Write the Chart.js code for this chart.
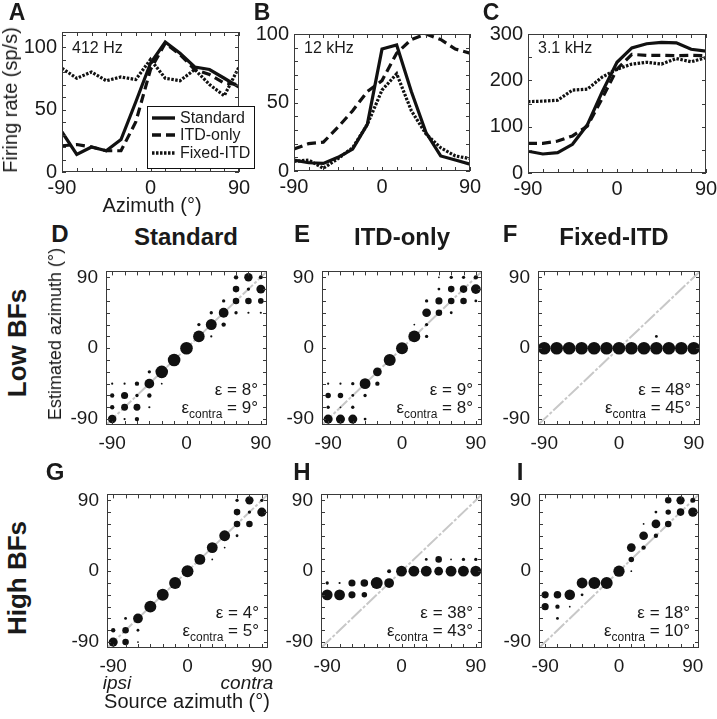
<!DOCTYPE html>
<html>
<head>
<meta charset="utf-8">
<script src="https://cdn.jsdelivr.net/npm/chart.js@4/dist/chart.umd.min.js"></script>
<style>
  html, body { margin: 0; padding: 0; background: #fff; }
  #fig { position: relative; width: 717px; height: 719px; overflow: hidden;
         font-family: "Liberation Sans", Arial, Helvetica, sans-serif; color: #1a1a1a; }
  #fig canvas { position: absolute; }
  .t { position: absolute; line-height: 1; white-space: nowrap; transform: translate(-50%, -50%); }
  .rot { transform: translate(-50%, -50%) rotate(-90deg); }
  .b { font-weight: bold; }
  .eps { position: absolute; font-size: 17px; line-height: 1; white-space: nowrap; transform: translateY(-50%); }
  .eps sub { font-size: 12px; vertical-align: -5px; line-height: 0; }
  #legend { position: absolute; left: 147px; top: 106px; width: 106px; height: 59px;
            border: 1.5px solid #111; background: #fff; padding-top: 2px; z-index: 5; }
  .lg-row { display: flex; align-items: center; height: 17.5px; font-size: 16px; }
  .lg-row svg { margin: 0 5px 0 4px; }
</style>
</head>
<body>
<div id="fig"><div id="legend"></div></div>
<script>
const FONT = '"Liberation Sans", Arial, Helvetica, sans-serif';
const INK = '#1a1a1a';

// top row: firing rate vs azimuth
const azimuths = [-90, -75, -60, -45, -30, -15, 0, 15, 30, 45, 60, 75, 90];
const seriesNames = ['Standard', 'ITD-only', 'Fixed-ITD'];
const aStandard = [32, 14, 20, 17, 26, 56, 87, 104, 95, 84, 82, 75, 68];
const aItdOnly  = [21, 22, 20, 17, 17, 40, 82, 103, 94, 82, 78, 71, 70];
const aFixedItd = [83, 75, 80, 73, 76, 74, 90, 75, 73, 82, 70, 61, 84];
const bStandard = [8, 6, 5.5, 10, 16, 34, 89, 92, 58, 28, 11, 8, 5];
const bItdOnly  = [16, 20, 21, 32, 44, 58, 66, 86, 96, 100, 96, 89, 86];
const bFixedItd = [7, 8, 2, 9, 17, 34, 59, 71, 44, 27, 17, 11, 9];
const cStandard = [47, 41, 44, 62, 104, 175, 239, 270, 279, 282, 281, 267, 263];
const cItdOnly  = [64, 64, 69, 80, 101, 161, 224, 256, 254, 254, 253, 254, 253];
const cFixedItd = [154, 155, 157, 179, 181, 207, 224, 235, 239, 235, 247, 240, 249];

// tick labels
const azLabels = [-90, 0, 90];
const rateLabels100 = [0, 50, 100];
const rateLabels300 = [0, 100, 200, 300];
const minor10 = [0, 10, 20, 30, 40, 50, 60, 70, 80, 90, 100, 110];
const minor50 = [0, 50, 100, 150, 200, 250, 300];

// bottom rows: [source azimuth, estimated azimuth, proportion of trials]
const lowStandard = [
  [-90,-90,0.45],[-90,-75,0.12],[-90,-60,0.12],[-90,-45,0.03],
  [-75,-90,0.03],[-75,-75,0.3],[-75,-60,0.32],[-75,-45,0.03],
  [-60,-90,0.12],[-60,-75,0.3],[-60,-60,0.07],[-60,-45,0.12],
  [-45,-75,0.03],[-45,-60,0.12],[-45,-45,0.6],[-45,-30,0.07],
  [-30,-30,1.0],[-30,-45,0.02],[-15,-15,1.0],[0,0,1.0],
  [15,15,0.85],[15,30,0.07],[30,30,0.75],[30,45,0.07],[30,15,0.03],
  [45,45,0.6],[45,60,0.07],[45,30,0.12],
  [60,90,0.12],[60,75,0.27],[60,60,0.27],[60,45,0.07],
  [75,90,0.45],[75,75,0.07],[75,60,0.27],[75,45,0.03],
  [90,90,0.1],[90,75,0.5],[90,60,0.2],[90,45,0.03]
];
const lowItdOnly = [
  [-90,-90,0.52],[-90,-75,0.07],[-90,-60,0.19],[-90,-45,0.03],
  [-75,-90,0.52],[-75,-75,0.02],[-75,-60,0.19],[-75,-45,0.03],
  [-60,-90,0.52],[-60,-75,0.07],[-60,-60,0.05],[-60,-45,0.07],
  [-45,-45,0.74],[-45,-60,0.07],[-45,-90,0.05],
  [-30,-30,0.48],[-30,-45,0.12],[-15,-15,0.9],[0,0,0.9],
  [15,15,0.9],[15,30,0.02],
  [30,45,0.48],[30,30,0.07],[30,60,0.07],[30,15,0.07],
  [45,60,0.32],[45,45,0.27],[45,75,0.05],[45,90,0.02],
  [60,75,0.27],[60,60,0.27],[60,90,0.07],[60,45,0.05],
  [75,75,0.36],[75,60,0.27],[75,90,0.07],
  [90,75,0.6],[90,90,0.12],[90,60,0.05]
];
const lowFixedItd = [
  [-90,0,1],[-75,0,1],[-60,0,1],[-45,0,1],[-30,0,1],[-15,0,1],[0,0,1],
  [15,0,1],[30,0,1],[45,0,1],[60,0,1],[75,0,1],[90,0,1],
  [45,15,0.05],[90,15,0.01]
];
const highStandard = [
  [-90,-90,0.52],[-90,-75,0.12],
  [-75,-90,0.27],[-75,-75,0.27],[-75,-60,0.05],
  [-60,-60,0.6],[-60,-75,0.05],[-60,-90,0.02],
  [-45,-45,0.9],[-30,-30,0.9],[-15,-15,0.9],[0,0,0.9],
  [15,15,0.74],[30,30,0.74],[30,15,0.02],[45,45,0.74],[45,30,0.02],
  [60,90,0.07],[60,75,0.27],[60,60,0.27],[60,45,0.05],
  [75,90,0.43],[75,75,0.07],[75,60,0.27],
  [90,75,0.52],[90,90,0.07]
];
const highItdOnly = [
  [-90,-30,0.74],[-90,-15,0.07],[-75,-30,0.74],[-75,-15,0.03],
  [-60,-30,0.32],[-60,-15,0.32],[-45,-15,0.36],[-45,-30,0.19],
  [-30,-15,0.9],[-15,-15,0.6],[-15,0,0.1],
  [0,0,0.74],[15,0,0.74],[30,0,0.74],[30,15,0.05],
  [45,0,0.48],[45,15,0.27],[60,0,0.74],[60,15,0.02],
  [75,0,0.74],[75,15,0.07],[90,0,0.74],[90,15,0.07]
];
const highFixedItd = [
  [-90,-30,0.32],[-90,-45,0.32],
  [-75,-30,0.36],[-75,-45,0.12],[-75,-60,0.05],
  [-60,-30,0.7],[-60,-45,0.02],
  [-45,-15,0.74],[-45,-30,0.05],[-30,-15,0.9],[-15,-15,0.9],[0,0,0.8],
  [15,30,0.48],[15,15,0.19],[15,0,0.02],
  [30,45,0.48],[30,30,0.12],[30,60,0.02],
  [45,60,0.48],[45,45,0.12],[45,75,0.05],
  [60,90,0.27],[60,75,0.19],[60,60,0.27],
  [75,90,0.43],[75,75,0.36],
  [90,75,0.55],[90,90,0.16]
];
const errors = [['8°','9°'], ['9°','8°'], ['48°','45°'], ['4°','5°'], ['38°','43°'], ['18°','10°']];

const fig = document.getElementById('fig');
const R_MAX = 6.3;
const lineDashes = [[], [9, 5], [2.5, 1.5]];

// box around the plot area plus inward ticks on all four sides
const frame = {
  id: 'frame',
  afterDatasetsDraw(chart, args, opts) {
    const { ctx, chartArea: a, scales } = chart;
    const L = 4;
    const inX = v => v >= scales.x.min && v <= scales.x.max;
    const inY = v => v >= scales.y.min && v <= scales.y.max;
    ctx.save();
    ctx.strokeStyle = '#3a3a3a';
    ctx.lineWidth = 1;
    ctx.beginPath();
    opts.xMinor.filter(inX).forEach(v => {
      const px = Math.round(scales.x.getPixelForValue(v)) + 0.5;
      ctx.moveTo(px, a.bottom); ctx.lineTo(px, a.bottom - L);
      ctx.moveTo(px, a.top); ctx.lineTo(px, a.top + L);
    });
    opts.yMinor.filter(inY).forEach(v => {
      const py = Math.round(scales.y.getPixelForValue(v)) + 0.5;
      ctx.moveTo(a.left, py); ctx.lineTo(a.left + L, py);
      ctx.moveTo(a.right, py); ctx.lineTo(a.right - L, py);
    });
    ctx.stroke();
    ctx.strokeRect(Math.round(a.left) + 0.5, Math.round(a.top) + 0.5,
                   Math.round(a.width) - 1, Math.round(a.height) - 1);
    ctx.restore();
  }
};

function scale(min, max, ticks, size, tickPad, extent, horizontal) {
  return {
    type: 'linear', min, max, bounds: 'data',
    grid: { display: false, drawTicks: false },
    border: { display: false },
    ticks: { color: INK, font: { family: FONT, size }, padding: tickPad,
             autoSkip: false, maxRotation: 0, minRotation: 0, callback: v => String(v) },
    afterBuildTicks: ax => { ax.ticks = ticks.map(v => ({ value: v })); },
    afterFit: ax => { if (horizontal) ax.height = extent; else ax.width = extent; }
  };
}

// box = [left, top, right, bottom] of the plot area; pad = [top, right, bottom, left]
function makeChart(box, pad, config) {
  const c = document.createElement('canvas');
  c.width = box[2] - box[0] + pad[1] + pad[3];
  c.height = box[3] - box[1] + pad[0] + pad[2];
  c.style.left = (box[0] - pad[3]) + 'px';
  c.style.top = (box[1] - pad[0]) + 'px';
  fig.appendChild(c);
  Object.assign(config.options, {
    responsive: false, animation: false, devicePixelRatio: 1, events: [],
    layout: { padding: { top: pad[0], right: pad[1], bottom: 0, left: 0 } }
  });
  return new Chart(c, config);
}

function text(str, cx, cy, size, cls) {
  const d = document.createElement('div');
  d.className = 't ' + (cls || '');
  d.style.left = cx + 'px';
  d.style.top = cy + 'px';
  d.style.fontSize = size + 'px';
  d.innerHTML = str;
  fig.appendChild(d);
  return d;
}

const TOP_PAD = [14, 16, 34, 48];
function rateChart(box, series, yMax, yLabels, yMinor, note) {
  const chart = makeChart(box, TOP_PAD, {
    type: 'line',
    data: {
      datasets: series.map((s, i) => ({
        label: seriesNames[i],
        data: azimuths.map((x, j) => ({ x, y: s[j] })),
        borderColor: '#111', borderWidth: 3.2, borderDash: lineDashes[i],
        borderCapStyle: 'butt', pointRadius: 0, tension: 0, fill: false
      }))
    },
    options: {
      scales: {
        x: scale(-90, 90, azLabels, 20, 4, TOP_PAD[2], true),
        y: scale(0, yMax, yLabels, 20, 5, TOP_PAD[3], false)
      },
      plugins: { legend: { display: false }, tooltip: { enabled: false },
                 frame: { xMinor: azimuths, yMinor } }
    },
    plugins: [frame]
  });
  const d = text(note, 0, 48, 16);
  d.style.transform = 'translateY(-50%)';
  d.style.left = (box[0] + 10) + 'px';
  return chart;
}

const chartA = rateChart([62, 29, 239, 172], [aStandard, aItdOnly, aFixedItd], 112, rateLabels100, minor10, '412 Hz');
rateChart([294, 31, 470, 171], [bStandard, bItdOnly, bFixedItd], 100, rateLabels100, minor10, '12 kHz');
rateChart([528, 31, 706, 173], [cStandard, cItdOnly, cFixedItd], 300, rateLabels300, minor50, '3.1 kHz');

// legend built from panel A datasets
const legend = document.getElementById('legend');
chartA.data.datasets.forEach(ds => {
  const row = document.createElement('div');
  row.className = 'lg-row';
  row.innerHTML = `<svg width="23" height="6"><line x1="0" y1="3" x2="23" y2="3" stroke="#111" stroke-width="3.4" stroke-dasharray="${ds.borderDash.join(' ')}"/></svg><span>${ds.label}</span>`;
  legend.appendChild(row);
});

const SC_PAD = [12, 16, 34, 50];
const EDGE = 97.5;
function localizationChart(box, cells, err) {
  makeChart(box, SC_PAD, {
    type: 'bubble',
    data: {
      datasets: [
        {
          data: cells.map(([s, e, p]) => ({ x: s, y: e, r: R_MAX * Math.sqrt(p) })),
          backgroundColor: '#111', borderWidth: 0, order: 0
        },
        {
          type: 'line',
          data: [{ x: -EDGE, y: -EDGE }, { x: EDGE, y: EDGE }],
          borderColor: '#c8c8c8', borderWidth: 2, borderDash: [14, 2, 3, 2],
          pointRadius: 0, fill: false, order: 1
        }
      ]
    },
    options: {
      scales: {
        x: scale(-EDGE, EDGE, azLabels, 19, 7, SC_PAD[2], true),
        y: scale(-EDGE, EDGE, azLabels, 19, 8, SC_PAD[3], false)
      },
      plugins: { legend: { display: false }, tooltip: { enabled: false },
                 frame: { xMinor: azimuths, yMinor: azimuths } }
    },
    plugins: [frame]
  });
  const right = (717 - (box[2] - 9)) + 'px';
  const e1 = document.createElement('div');
  e1.className = 'eps';
  e1.style.right = right;
  e1.style.top = (box[3] - 36) + 'px';
  e1.innerHTML = 'ε = ' + err[0];
  fig.appendChild(e1);
  const e2 = document.createElement('div');
  e2.className = 'eps';
  e2.style.right = right;
  e2.style.top = (box[3] - 18) + 'px';
  e2.innerHTML = 'ε<sub>contra</sub> = ' + err[1];
  fig.appendChild(e2);
}

localizationChart([106, 264, 267, 425], lowStandard, errors[0]);
localizationChart([322, 264, 482, 425], lowItdOnly, errors[1]);
localizationChart([538, 264, 700, 425], lowFixedItd, errors[2]);
localizationChart([107, 487, 268, 648], highStandard, errors[3]);
localizationChart([321, 487, 482, 648], highItdOnly, errors[4]);
localizationChart([539, 487, 699, 648], highFixedItd, errors[5]);

// panel letters, titles, axis titles
text('A', 17, 12, 23, 'b');
text('B', 262, 12, 23, 'b');
text('C', 491, 12, 23, 'b');
text('D', 60, 234, 24, 'b');
text('E', 302, 234, 24, 'b');
text('F', 510, 234, 24, 'b');
text('G', 55, 472, 24, 'b');
text('H', 302, 472, 24, 'b');
text('I', 520, 472, 24, 'b');

text('Standard', 186, 237, 24, 'b');
text('ITD-only', 402, 237, 24, 'b');
text('Fixed-ITD', 614, 237, 24, 'b');

text('Low BFs', 17, 343, 26, 'b rot');
text('High BFs', 17, 578, 26, 'b rot');

text('Firing rate (sp/s)', 10, 100, 20, 'rot');
text('Azimuth (°)', 152, 205, 20);
text('Estimated azimuth (°)', 55, 334, 18, 'rot');
text('<i>ipsi</i>', 117, 682, 19);
text('<i>contra</i>', 247, 682, 19);
text('Source azimuth (°)', 187, 701, 20);
</script>
</body>
</html>
